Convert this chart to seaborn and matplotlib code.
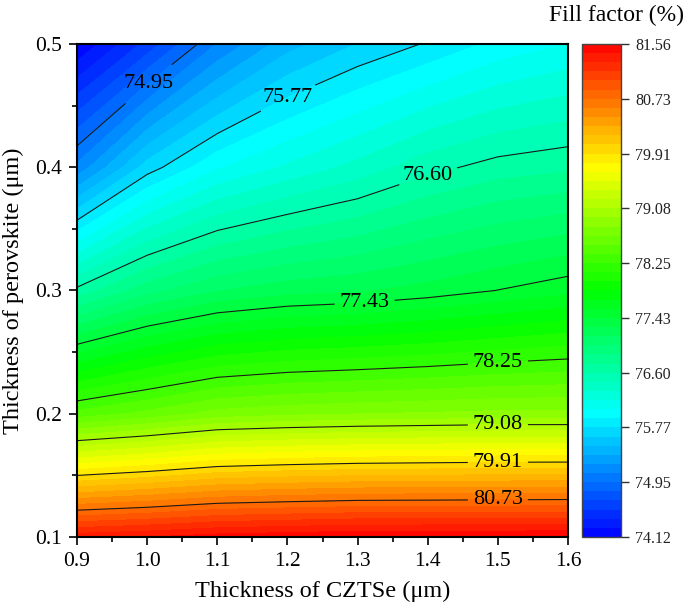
import numpy as np
import matplotlib
matplotlib.use("Agg")
import matplotlib.pyplot as plt
from matplotlib.colors import LinearSegmentedColormap
from matplotlib.ticker import MultipleLocator
import seaborn as sns

# CZTSe thickness (µm) along x, perovskite thickness (µm) along y
czts_thickness = [0.9, 1.0, 1.1, 1.2, 1.3, 1.4, 1.5, 1.6]
perovskite_thickness = [0.1, 0.2, 0.3, 0.4, 0.5]

# Fill factor (%) for each perovskite row
ff_at_0_1 = [81.37, 81.42, 81.49, 81.52, 81.55, 81.55, 81.55, 81.56]
ff_at_0_2 = [78.44, 78.57, 78.72, 78.77, 78.80, 78.82, 78.84, 78.84]
ff_at_0_3 = [76.64, 76.96, 77.14, 77.23, 77.27, 77.34, 77.43, 77.52]
ff_at_0_4 = [75.12, 75.70, 76.03, 76.21, 76.37, 76.55, 76.66, 76.71]
ff_at_0_5 = [74.12, 74.58, 75.09, 75.44, 75.64, 75.79, 75.95, 76.05]

ff_min, ff_max = 74.12, 81.56

sns.set_theme(style="ticks")
plt.rcParams["font.family"] = ["Liberation Serif", "DejaVu Serif"]
plt.rcParams["mathtext.fontset"] = "stix"

X, Y = np.meshgrid(czts_thickness, perovskite_thickness)
Z = np.array([ff_at_0_1, ff_at_0_2, ff_at_0_3, ff_at_0_4, ff_at_0_5])

cmap = LinearSegmentedColormap.from_list(
    "ff_rainbow",
    [(0.0, "#0000ff"), (0.25, "#00ffff"), (0.5, "#00ff00"),
     (0.75, "#ffff00"), (1.0, "#ff0000")],
)

fill_levels = np.linspace(ff_min, ff_max, 55)
line_levels = np.linspace(ff_min, ff_max, 10)

fig = plt.figure(figsize=(6.89, 6.10), dpi=100)
ax = fig.add_axes([0.1118, 0.1197, 0.7126, 0.8082])

cf = ax.contourf(X, Y, Z, levels=fill_levels, cmap=cmap,
                 vmin=ff_min, vmax=ff_max)
cs = ax.contour(X, Y, Z, levels=line_levels[1:-1], colors="#1a1a1a",
                linewidths=0.8)
label_spots = [(1.0, 0.469), (1.2, 0.457), (1.4, 0.394), (1.31, 0.291),
               (1.5, 0.2415), (1.5, 0.191), (1.5, 0.1605), (1.5, 0.1303)]
labels = ax.clabel(cs, fmt="%.2f", fontsize=16, inline=True,
                   inline_spacing=5, manual=label_spots, colors="black")
for t in labels:
    t.set_rotation(0)

ax.set_xlim(0.9, 1.6)
ax.set_ylim(0.1, 0.5)
ax.xaxis.set_major_locator(MultipleLocator(0.1))
ax.xaxis.set_minor_locator(MultipleLocator(0.05))
ax.yaxis.set_major_locator(MultipleLocator(0.1))
ax.yaxis.set_minor_locator(MultipleLocator(0.05))
ax.xaxis.set_major_formatter(plt.FormatStrFormatter("%.1f"))
ax.yaxis.set_major_formatter(plt.FormatStrFormatter("%.1f"))
ax.tick_params(which="major", direction="out", length=6, width=1.2,
               labelsize=15.5, color="black", labelcolor="black", pad=5)
ax.tick_params(which="minor", direction="out", length=3.5, width=1.2,
               color="black")
ax.tick_params(top=False, right=False, which="both")
for sp in ax.spines.values():
    sp.set_linewidth(1.5)
    sp.set_color("black")

ax.set_xlabel("Thickness of CZTSe (\u03bcm)", fontsize=17.5, color="black",
              labelpad=7)
ax.set_ylabel("Thickness of perovskite (\u03bcm)", fontsize=17.5,
              color="black", labelpad=8)

cax = fig.add_axes([0.8447, 0.1197, 0.0566, 0.8082])
cb = fig.colorbar(cf, cax=cax, ticks=line_levels)
cb.ax.set_yticklabels([f"{v:.2f}" for v in line_levels])
cb.ax.tick_params(direction="out", length=6, width=1.0, labelsize=11.5,
                  color="#333333", labelcolor="#222222", pad=4)
cb.outline.set_linewidth(1.0)
cb.outline.set_edgecolor("#444444")
fig.text(0.993, 0.958, "Fill factor (%)", ha="right", va="bottom",
         fontsize=17, color="black")

fig.savefig("out.png", dpi=100)
